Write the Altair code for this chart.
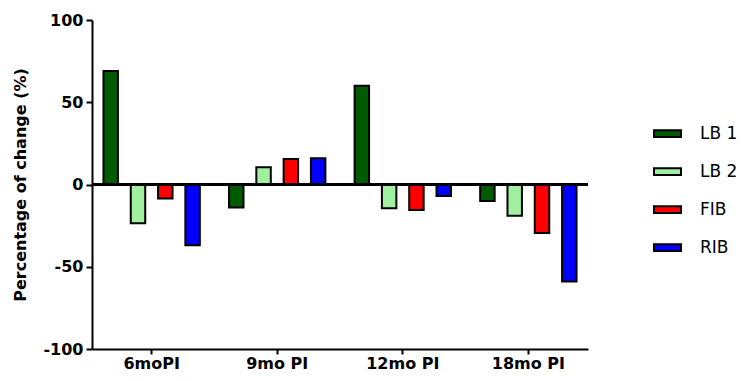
import altair as alt
import pandas as pd

timepoints = ["6moPI", "9mo PI", "12mo PI", "18mo PI"]
series = ["LB 1", "LB 2", "FIB", "RIB"]
colors = ["#005a00", "#a0f0a0", "#ff0000", "#0000ff"]
values = {
    "LB 1": [69, -14, 60, -10],
    "LB 2": [-23.5, 10.5, -14.5, -19],
    "FIB": [-8.5, 15.5, -15.5, -29.5],
    "RIB": [-37, 16, -7, -59],
}

rows = []
for s in series:
    for t, v in zip(timepoints, values[s]):
        rows.append({"time": t, "group": s, "value": v})
df = pd.DataFrame(rows)

FONT = "DejaVu Sans"

bars = alt.Chart(df).mark_bar(stroke="black", strokeWidth=2).encode(
    x=alt.X("time:N", sort=timepoints,
            scale=alt.Scale(paddingInner=0.05, paddingOuter=0),
            axis=alt.Axis(title=None, labelAngle=0, labelFont=FONT, labelFontSize=16,
                          labelFontWeight="bold", labelColor="black", labelPadding=1,
                          domainColor="black", domainWidth=2, tickColor="black",
                          tickWidth=2, tickSize=5, grid=False)),
    xOffset=alt.XOffset("group:N", sort=series,
                        scale=alt.Scale(paddingInner=0.47, paddingOuter=0.42)),
    y=alt.Y("value:Q", scale=alt.Scale(domain=[-100, 100], nice=False),
            axis=alt.Axis(title="Percentage of change (%)", values=[-100, -50, 0, 50, 100],
                          labelExpr="'' + datum.value",
                          titleFont=FONT, titleFontSize=16, titleFontWeight="bold",
                          titleColor="black", titlePadding=14,
                          labelFont=FONT, labelFontSize=16, labelFontWeight="bold",
                          labelColor="black", labelPadding=3,
                          domainColor="black", domainWidth=2, tickColor="black",
                          tickWidth=2, tickSize=6, grid=False)),
    color=alt.Color("group:N", sort=series,
                    scale=alt.Scale(domain=series, range=colors),
                    legend=alt.Legend(title=None, orient="none", legendX=561, legendY=99,
                                      symbolType="M-1,-0.25L1,-0.25L1,0.25L-1,0.25Z",
                                      symbolSize=729, symbolStrokeColor="black",
                                      symbolStrokeWidth=2, symbolOpacity=1,
                                      labelFont=FONT, labelFontSize=17, labelColor="black",
                                      labelOffset=18, rowPadding=15, padding=0)),
)

zero = alt.Chart(df).mark_rule(color="black", strokeWidth=2).encode(y=alt.datum(0))

chart = alt.layer(bars, zero).properties(
    width=496, height=329, background="white",
    autosize=alt.AutoSizeParams(type="none"),
    padding={"left": 84, "top": 12, "right": 150, "bottom": 24}
).configure_view(stroke=None)

chart.save("out.html", embed_options={"renderer": "svg", "actions": False})
